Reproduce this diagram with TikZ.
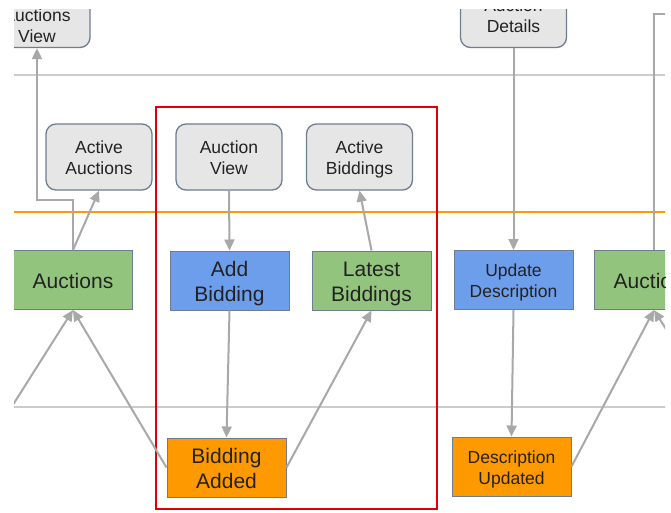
\documentclass[tikz,border=0pt]{standalone}
\usepackage{fontspec}
\setmainfont{Liberation Sans}
\usetikzlibrary{arrows.meta}
\definecolor{gfill}{HTML}{E6E6E6}
\definecolor{gline}{HTML}{6E7E90}
\definecolor{grn}{HTML}{93C47D}
\definecolor{blu}{HTML}{6D9EEB}
\definecolor{org}{HTML}{FF9900}
\definecolor{redc}{HTML}{E00000}
\definecolor{arr}{HTML}{A8A8A8}
\definecolor{sep}{HTML}{CCCCCC}
\definecolor{txt}{HTML}{222222}
\newcommand\tg{\rule{0pt}{1.07em}}
\newcommand\bg{\rule[-0.262em]{0pt}{0pt}}
\begin{document}
\begin{tikzpicture}[x=1pt,y=-1pt,
  smalltext/.style={font=\fontsize{17.5}{21}\selectfont},
  bigtext/.style={font=\fontsize{21}{25}\selectfont},
  viewbox/.style={smalltext,inner sep=0pt,align=center,text=txt,draw=gline,line width=1.3pt,
    fill=gfill,rounded corners=10pt,minimum width=106pt,minimum height=66pt},
  bigbox/.style={bigtext,inner sep=0pt,align=center,text=txt,draw=gline,line width=1pt,
    minimum width=119pt,minimum height=59pt},
  smallbox/.style={bigbox,smalltext},
  readm/.style={bigbox,fill=grn},
  cmd/.style={fill=blu},
  evt/.style={fill=org},
  conn/.style={draw=arr,line width=2pt,-{Triangle[length=11pt,width=10pt]}},
  plain/.style={draw=arr,line width=2pt},
  sepline/.style={draw=sep,line width=1.5pt},
]
\fill[white] (0,0) rectangle (671,512);
\useasboundingbox (0,0) rectangle (671,512);
\begin{scope}
\clip (14,9) rectangle (665,512);
% separators
\draw[sepline] (0,75) -- (700,75);
\draw[sepline] (0,407) -- (700,407);
\draw[draw=org,line width=2pt] (0,212) -- (700,212);
% views
\node[viewbox] (avL) at (37,14.5) {\tg\\Auctions\\View\bg};
\node[viewbox] (aa) at (99,157) {\tg Active\\Auctions\bg};
\node[viewbox] (av) at (229,157) {\tg Auction\\View\bg};
\node[viewbox] (abd) at (359.5,157) {\tg Active\\Biddings\bg};
\node[viewbox] (ad) at (513.5,14.5) {\tg Auction\\Details\bg};
% read models / commands
\node[readm] (auL) at (73,280) {\tg Auctions\bg};
\node[bigbox,cmd] (ab) at (229.5,280.5) {\tg Add\\Bidding\bg};
\node[readm] (lb) at (371.5,280.5) {\tg Latest\\Biddings\bg};
\node[smallbox,cmd] (ud) at (513.5,280) {\tg Update\\Description\bg};
\node[readm] (auR) at (654,280) {\tg Auctions\bg};
% events
\node[bigbox,evt] (ba) at (226.5,467.5) {\tg Bidding\\Added\bg};
\node[smallbox,evt] (du) at (511.5,466.5) {\tg Description\\Updated\bg};
% red frame
\draw[draw=redc,line width=2pt] (156,107) rectangle (437,509);
% connectors
\coordinate (bendL) at (37,200);
\coordinate (inL) at (-10,441);
\coordinate (inR) at (720,415);
\coordinate (topR) at (654,14);
\coordinate (offR) at (700,14);
\draw[conn] (auL.north) |- (bendL) -- (avL.south);
\draw[conn] (auL.north) -- (aa.south);
\draw[conn] (av.south) -- (ab.north);
\draw[conn] (lb.north) -- (abd.south);
\draw[conn] (ad.south) -- (ud.north);
\draw[conn] (ab.south) -- (ba.north);
\draw[conn] (ba.west) -- (auL.south);
\draw[conn] (inL) -- (auL.south);
\draw[conn] (ba.east) -- (lb.south);
\draw[conn] (ud.south) -- (du.north);
\draw[conn] (du.east) -- (auR.south);
\draw[conn] (inR) -- (auR.south);
\draw[plain] (auR.north) -- (topR) -- (offR);
\end{scope}
\end{tikzpicture}
\end{document}
